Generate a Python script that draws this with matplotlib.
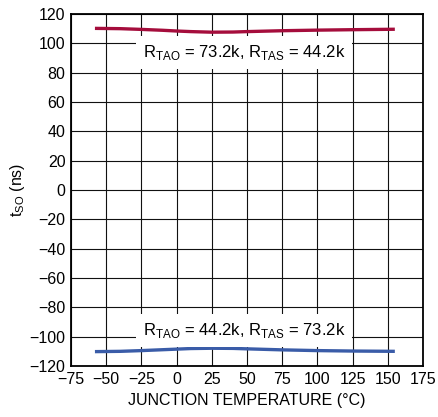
import matplotlib
matplotlib.use("Agg")
import matplotlib.pyplot as plt
import numpy as np

# data
temp = [-58, -40, -25, -10, 0, 10, 25, 40, 50, 75, 100, 125, 155]
t_so_high = [110.2, 110.0, 109.5, 108.9, 108.4, 108.0, 107.6, 107.7, 108.0, 108.6, 109.0, 109.3, 109.6]
t_so_low = [-110.2, -110.0, -109.5, -108.9, -108.5, -108.1, -107.9, -108.0, -108.3, -109.0, -109.5, -109.8, -110.0]

label_high = "R$_{\\mathregular{TAO}}$ = 73.2k, R$_{\\mathregular{TAS}}$ = 44.2k"
label_low = "R$_{\\mathregular{TAO}}$ = 44.2k, R$_{\\mathregular{TAS}}$ = 73.2k"

RED = "#A50D3C"
BLUE = "#3A5CA8"

plt.rcParams["font.family"] = ["Liberation Sans", "DejaVu Sans"]
plt.rcParams["mathtext.fontset"] = "custom"
plt.rcParams["mathtext.rm"] = "Liberation Sans"

fig = plt.figure(figsize=(4.38, 4.17), dpi=100)
ax = fig.add_axes([71 / 438, 1 - 366 / 417, 352 / 438, 352 / 417])

ax.plot(temp, t_so_high, color=RED, lw=2.4, solid_capstyle="butt", zorder=3)
ax.plot(temp, t_so_low, color=BLUE, lw=2.4, solid_capstyle="butt", zorder=3)

ax.set_xlim(-75, 175)
ax.set_ylim(-120, 120)
ax.set_xticks(np.arange(-75, 176, 25))
ax.set_yticks(np.arange(-120, 121, 20))
ax.set_xticklabels([str(v).replace("-", "\u2212") for v in range(-75, 176, 25)])
ax.set_yticklabels([str(v).replace("-", "\u2212") for v in range(-120, 121, 20)])
ax.tick_params(length=0, labelsize=11.5, pad=4)
ax.grid(True, color="#111111", lw=0.8)
ax.set_axisbelow(True)
for s in ax.spines.values():
    s.set_linewidth(1.3)

ax.set_xlabel("JUNCTION TEMPERATURE (\u00b0C)", fontsize=11.5, labelpad=5)
ax.set_ylabel("t$_{\\mathregular{SO}}$ (ns)", fontsize=11.5, labelpad=2)

box = dict(facecolor="white", edgecolor="none", pad=5)
ax.text(48, 93.5, label_high, fontsize=12, ha="center", va="center", bbox=box, zorder=4)
ax.text(48, -96, label_low, fontsize=12, ha="center", va="center", bbox=box, zorder=4)

fig.savefig("out.png", dpi=100)
